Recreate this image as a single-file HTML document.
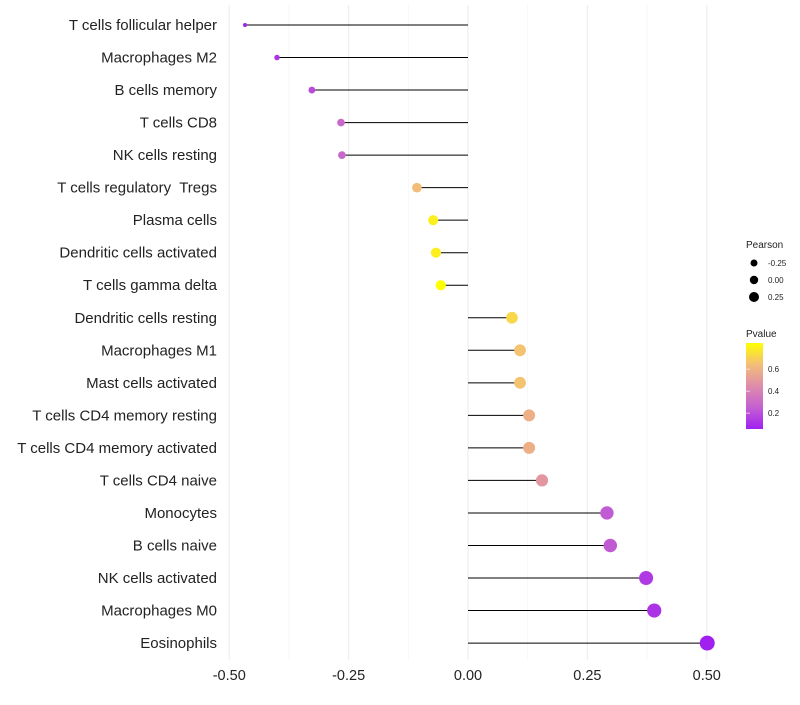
<!DOCTYPE html>
<html><head><meta charset="utf-8"><style>
body{margin:0;background:#fff;font-family:"Liberation Sans",sans-serif}
text{white-space:pre}
</style></head><body>
<svg id="c" width="800" height="700" xml:space="preserve"></svg>
<script>
const categories=["T cells follicular helper","Macrophages M2","B cells memory","T cells CD8","NK cells resting","T cells regulatory  Tregs","Plasma cells","Dendritic cells activated","T cells gamma delta","Dendritic cells resting","Macrophages M1","Mast cells activated","T cells CD4 memory resting","T cells CD4 memory activated","T cells CD4 naive","Monocytes","B cells naive","NK cells activated","Macrophages M0","Eosinophils"];
const pearson=[-0.467,-0.400,-0.327,-0.266,-0.264,-0.107,-0.073,-0.067,-0.057,0.092,0.109,0.109,0.128,0.128,0.155,0.291,0.298,0.373,0.390,0.501];
const pvalues=[0.03,0.08,0.15,0.25,0.25,0.6,0.75,0.75,0.8,0.68,0.62,0.62,0.55,0.55,0.45,0.2,0.2,0.1,0.08,0.02];
const xTicks=[-0.5,-0.25,0,0.25,0.5];
const xTickLabels=["-0.50","-0.25","0.00","0.25","0.50"];
const NS="http://www.w3.org/2000/svg";
const svg=document.getElementById('c');
function x(v){return 468+v*477.5;}
function y(i){return 25+i*32.53;}
function r(v){return Math.sqrt(Math.max(1,29.1+53.8*v));}
function lerp(a,b,t){return Math.round(a+(b-a)*t);}
const stops=[[0,[160,32,240]],[0.25,[196,96,210]],[0.5,[222,140,170]],[0.75,[243,190,120]],[1,[255,255,0]]];
function col(p){let t=Math.max(0,Math.min(1,(p-0.02)/0.78));for(let k=1;k<stops.length;k++){if(t<=stops[k][0]){const a=stops[k-1],b=stops[k];const u=(t-a[0])/(b[0]-a[0]);return `rgb(${lerp(a[1][0],b[1][0],u)},${lerp(a[1][1],b[1][1],u)},${lerp(a[1][2],b[1][2],u)})`;}}return 'rgb(255,255,0)';}
function el(t,a,txt){const e=document.createElementNS(NS,t);for(const k in a)e.setAttribute(k,a[k]);if(txt!==undefined)e.textContent=txt;svg.appendChild(e);return e;}
[-0.375,-0.125,0.125,0.375].forEach(v=>{const g=el('line',{x1:x(v),x2:x(v),y1:5,y2:660,stroke:'#f3f3f3','stroke-width':0.6});

});
xTicks.forEach((v,i)=>{const g=el('line',{x1:x(v),x2:x(v),y1:5,y2:660,stroke:'#ebebeb','stroke-width':1});


const t=el('text',{x:x(v),y:680,'text-anchor':'middle','font-size':14.5,fill:'#222'},xTickLabels[i]);

});
categories.forEach((c,i)=>{const t=el('text',{x:217,y:y(i)+5,'text-anchor':'end','font-size':15,fill:'#222'},c);


const l=el('line',{x1:x(0),x2:x(pearson[i]),y1:y(i),y2:y(i),stroke:'#000','stroke-width':1});


const d=el('circle',{cx:x(pearson[i]),cy:y(i),r:r(pearson[i]),fill:col(pvalues[i])});

});
const lt=el('text',{x:746,y:248,'font-size':10,fill:'#222'},'Pearson');


const sizeVals=[-0.25,0,0.25],sizeLabs=["-0.25","0.00","0.25"],legR=[3.5,4.2,5];
sizeVals.forEach((v,i)=>{const cy=263+i*17;const d=el('circle',{cx:754,cy:cy,r:legR[i],fill:'#000'});


const t=el('text',{x:768,y:cy+3,'font-size':8,fill:'#222'},sizeLabs[i]);

});
const pt=el('text',{x:746,y:337,'font-size':10,fill:'#222'},'Pvalue');


const defs=el('defs',{});const lg=document.createElementNS(NS,'linearGradient');lg.setAttribute('id','g');lg.setAttribute('x1','0');lg.setAttribute('y1','1');lg.setAttribute('x2','0');lg.setAttribute('y2','0');defs.appendChild(lg);
stops.forEach(s=>{const st=document.createElementNS(NS,'stop');st.setAttribute('offset',s[0]);st.setAttribute('stop-color',`rgb(${s[1].join(',')})`);lg.appendChild(st);});
const cb=el('rect',{x:746,y:343,width:17,height:86,fill:'url(#g)'});


[[0.6,"0.6"],[0.4,"0.4"],[0.2,"0.2"]].forEach(([v,s])=>{const yy=431-(v-0.02)/0.2*22+2;
const t=el('text',{x:768,y:yy+3,'font-size':8,fill:'#222'},s);


const tk=el('line',{x1:746,x2:750,y1:yy,y2:yy,stroke:'#fff','stroke-opacity':0.6});

});
</script>
</body></html>
